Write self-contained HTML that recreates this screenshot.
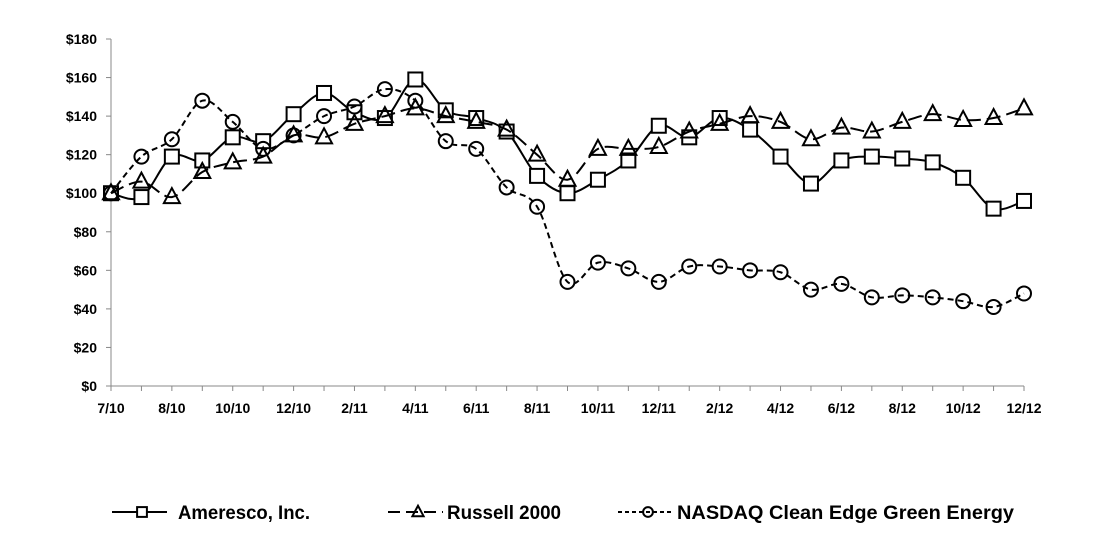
<!DOCTYPE html>
<html><head><meta charset="utf-8"><style>
html,body{margin:0;padding:0;background:#fff;}
svg text{font-family:"Liberation Sans",Arial,sans-serif;font-weight:bold;fill:#000;}
</style></head><body>
<svg id="chart" width="1109" height="532" viewBox="0 0 1109 532" xmlns="http://www.w3.org/2000/svg">
<g id="axes"></g>
<g id="series"></g>
<g id="legend"></g>
</svg>
<script>
const xLabels = ["7/10","8/10","10/10","12/10","2/11","4/11","6/11","8/11","10/11","12/11","2/12","4/12","6/12","8/12","10/12","12/12"];
const yTicks = [0,20,40,60,80,100,120,140,160,180];
const ameresco = [100,98,119,117,129,127,141,152,142,139,159,143,139,132,109,100,107,117,135,129,139,133,119,105,117,119,118,116,108,92,96];
const russell = [100,106,98,111,116,119,130,129,136,140,144,140,137,133,120,107,123,123,124,132,136,140,137,128,134,132,137,141,138,139,144];
const nasdaq = [100,119,128,148,137,123,130,140,145,154,148,127,123,103,93,54,64,61,54,62,62,60,59,50,53,46,47,46,44,41,48];
const seriesNames = ["Ameresco, Inc.","Russell 2000","NASDAQ Clean Edge Green Energy"];

const NS="http://www.w3.org/2000/svg";
const x0=111,x1=1024,y0=386,y1=39,n=ameresco.length;
const xs=i=>x0+(x1-x0)*i/(n-1);
const ys=v=>y0-(y0-y1)*v/180;
function mk(t,a,p){const e=document.createElementNS(NS,t);for(const k in a)e.setAttribute(k,a[k]);p.appendChild(e);return e;}
const axes=document.getElementById('axes'),ser=document.getElementById('series'),leg=document.getElementById('legend');

const ya=mk('line',{x1:x0,y1:y1,x2:x0,y2:y0,stroke:'#888','stroke-width':1},axes);

const xa=mk('line',{x1:x0,y1:y0,x2:x1,y2:y0,stroke:'#888','stroke-width':1},axes);

yTicks.forEach(v=>{
  mk('line',{x1:x0-5,y1:ys(v),x2:x0,y2:ys(v),stroke:'#888'},axes);
  const t=mk('text',{x:97,y:ys(v)+5,'text-anchor':'end','font-size':14},axes);
  t.textContent='$'+v;
  
  
});
for(let i=0;i<n;i++) mk('line',{x1:xs(i),y1:y0,x2:xs(i),y2:y0+5,stroke:'#888'},axes);
xLabels.forEach((l,j)=>{
  const t=mk('text',{x:xs(j*2),y:413,'text-anchor':'middle','font-size':14},axes);
  t.textContent=l;
  
  
});

function smooth(pts){
  let d='M'+pts[0][0]+','+pts[0][1];
  for(let i=0;i<pts.length-1;i++){
    const p0=pts[i-1]||pts[i],p1=pts[i],p2=pts[i+1],p3=pts[i+2]||p2,k=6;
    d+=' C'+(p1[0]+(p2[0]-p0[0])/k)+','+(p1[1]+(p2[1]-p0[1])/k)+' '+(p2[0]-(p3[0]-p1[0])/k)+','+(p2[1]-(p3[1]-p1[1])/k)+' '+p2[0]+','+p2[1];
  }
  return d;
}
function marker(type,cx,cy,g,s){
  s=s||1;
  let e;
  if(type==='sq') e=mk('rect',{x:cx-7*s,y:cy-7*s,width:14*s,height:14*s,fill:'#fff',stroke:'#000','stroke-width':2},g);
  else if(type==='tri') e=mk('polygon',{points:`${cx},${cy-9*s} ${cx-8*s},${cy+6*s} ${cx+8*s},${cy+6*s}`,fill:'none',stroke:'#000','stroke-width':2},g);
  else e=mk('circle',{cx:cx,cy:cy,r:7*s,fill:'none',stroke:'#000','stroke-width':2},g);
  return e;
}
const defs=[[ameresco,'sq','none','ameresco'],[russell,'tri','14,6','russell-2000'],[nasdaq,'circ','6,4','nasdaq-clean-edge']];
defs.forEach(([data,m,dash,name])=>{
  const g=mk('g',{},ser);
  
  
  const pts=data.map((v,i)=>[xs(i),ys(v)]);
  const p=mk('path',{d:smooth(pts),fill:'none',stroke:'#000','stroke-width':2,'stroke-dasharray':dash},g);
  
  
  pts.forEach(q=>{
    const e=marker(m,q[0],q[1],g);
    
    
  });
});
const lx=[112,388,618];
const tw=[132,114,337];
defs.forEach(([d,m,dash,name],i)=>{
  const g=mk('g',{},leg);
  
  
  mk('line',{x1:lx[i],y1:512,x2:lx[i]+55,y2:512,stroke:'#000','stroke-width':2,'stroke-dasharray':dash==='none'?'none':(i==1?'12,6':'4,3')},g);
  marker(m,lx[i]+30,512,g,0.7);
  const t=mk('text',{x:lx[i]+(i==0?66:59),y:519,'font-size':19,textLength:tw[i],lengthAdjust:'spacingAndGlyphs'},g);
  t.textContent=seriesNames[i];
});
</script>
</body></html>
